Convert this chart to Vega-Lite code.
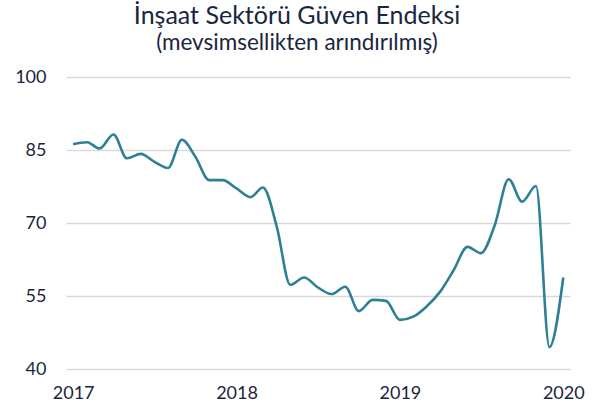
{
  "$schema": "https://vega.github.io/schema/vega-lite/v6.json",
  "width": 504,
  "height": 292,
  "autosize": "none",
  "padding": {"left": 66, "top": 77, "right": 23, "bottom": 39},
  "background": "white",
  "title": {
    "text": "İnşaat Sektörü Güven Endeksi",
    "subtitle": "(mevsimsellikten arındırılmış)",
    "anchor": "middle",
    "dx": -21,
    "offset": 14,
    "font": "Lato",
    "fontSize": 25,
    "fontWeight": "normal",
    "color": "#1a2540",
    "subtitleFont": "Lato",
    "subtitleFontSize": 22.5,
    "subtitleColor": "#1a2540",
    "subtitlePadding": 3
  },
  "data": {
    "values": [
      {"date": "2017-01-01", "value": 86.2},
      {"date": "2017-02-01", "value": 86.6},
      {"date": "2017-03-01", "value": 85.3},
      {"date": "2017-04-01", "value": 88.2},
      {"date": "2017-05-01", "value": 83.3},
      {"date": "2017-06-01", "value": 84.2},
      {"date": "2017-07-01", "value": 82.6},
      {"date": "2017-08-01", "value": 81.3},
      {"date": "2017-09-01", "value": 87.1},
      {"date": "2017-10-01", "value": 83.6},
      {"date": "2017-11-01", "value": 78.8},
      {"date": "2017-12-01", "value": 78.8},
      {"date": "2018-01-01", "value": 77.1},
      {"date": "2018-02-01", "value": 75.3},
      {"date": "2018-03-01", "value": 77.3},
      {"date": "2018-04-01", "value": 69.2},
      {"date": "2018-05-01", "value": 57.3},
      {"date": "2018-06-01", "value": 58.8},
      {"date": "2018-07-01", "value": 56.8},
      {"date": "2018-08-01", "value": 55.4},
      {"date": "2018-09-01", "value": 56.9},
      {"date": "2018-10-01", "value": 51.9},
      {"date": "2018-11-01", "value": 54.2},
      {"date": "2018-12-01", "value": 54.0},
      {"date": "2019-01-01", "value": 50.1},
      {"date": "2019-02-01", "value": 50.8},
      {"date": "2019-03-01", "value": 52.8},
      {"date": "2019-04-01", "value": 55.9},
      {"date": "2019-05-01", "value": 60.3},
      {"date": "2019-06-01", "value": 65.1},
      {"date": "2019-07-01", "value": 63.8},
      {"date": "2019-08-01", "value": 69.6},
      {"date": "2019-09-01", "value": 79.0},
      {"date": "2019-10-01", "value": 74.4},
      {"date": "2019-11-01", "value": 77.6},
      {"date": "2019-12-01", "value": 44.5},
      {"date": "2020-01-01", "value": 58.8}
    ]
  },
  "mark": {"type": "line", "interpolate": "monotone", "color": "#2e8095", "strokeWidth": 2.6},
  "encoding": {
    "x": {
      "field": "date",
      "type": "temporal",
      "title": null,
      "scale": {"domain": ["2016-12-16", "2020-01-16"]},
      "axis": {
        "values": ["2017-01-01", "2018-01-01", "2019-01-01", "2020-01-01"],
        "format": "%Y",
        "grid": false,
        "domain": false,
        "ticks": false,
        "labelPadding": 15,
        "labelFont": "Lato",
        "labelFontSize": 18,
        "labelColor": "#1a2540"
      }
    },
    "y": {
      "field": "value",
      "type": "quantitative",
      "title": null,
      "scale": {"domain": [40, 100], "nice": false, "zero": false},
      "axis": {
        "values": [40, 55, 70, 85, 100],
        "domain": false,
        "ticks": false,
        "labelPadding": 20,
        "labelFont": "Lato",
        "labelFontSize": 18,
        "labelColor": "#1a2540",
        "gridColor": "#d9d9d9",
        "gridWidth": 1.5
      }
    }
  },
  "config": {"view": {"stroke": null}}
}
